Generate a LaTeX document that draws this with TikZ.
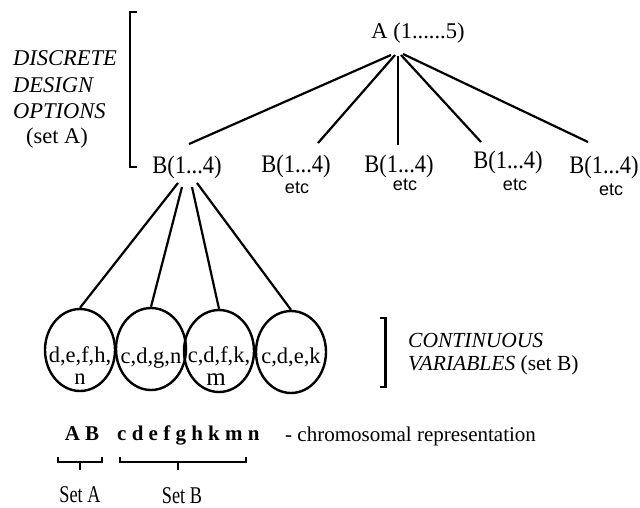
\documentclass[tikz,border=0pt]{standalone}
\usepackage{fontspec}
\usepackage{graphicx}
\setmainfont{Liberation Serif}
\newfontfamily\sansf{Liberation Sans}
\usetikzlibrary{shapes.geometric}
\newcommand\tallbox[1]{\scalebox{1}[1.12]{#1}}
\newcommand\narrowbox[1]{\scalebox{0.76}[1]{#1}}
\tikzset{
  lbl/.style={inner sep=0pt, font=\fontsize{22.5}{26}\selectfont},
  etclbl/.style={inner sep=0pt, font=\sansf\fontsize{18}{20}\selectfont},
  itl/.style={inner sep=0pt, font=\itshape\fontsize{22.5}{26}\selectfont},
  itlb/.style={inner sep=0pt, font=\fontsize{21.5}{24}\selectfont},
  gene/.style={draw, line width=2.4pt, ellipse, minimum width=70pt, minimum height=82pt, inner sep=0pt},
  cell/.style={inner sep=0pt, font=\fontsize{22.5}{19}\selectfont},
  chrom/.style={inner sep=0pt, font=\bfseries\fontsize{21}{24}\selectfont},
  small/.style={inner sep=0pt, font=\fontsize{21}{24}\selectfont},
  setlbl/.style={inner sep=0pt, font=\fontsize{24}{26}\selectfont},
  edge/.style={line width=2.2pt},
  brk/.style={line width=2.4pt},
}
\begin{document}
\begin{tikzpicture}[x=1pt,y=-1pt]
\useasboundingbox (0,0) rectangle (640,507);
% top node
\node[lbl] (A) at (418,33) {A (1......5)};
\coordinate (t1) at (391,55);
\coordinate (t2) at (395,55);
\coordinate (t3) at (398,56);
\coordinate (t4) at (401,55);
\coordinate (t5) at (403,54);
% B labels
\node[lbl, anchor=base] (B1) at (187,173) {\tallbox{B(1...4)}};
\node[lbl, anchor=base] (B2) at (296,172) {\tallbox{B(1...4)}};
\node[lbl, anchor=base] (B3) at (399,172) {\tallbox{B(1...4)}};
\node[lbl, anchor=base] (B4) at (508,168) {\tallbox{B(1...4)}};
\node[lbl, anchor=base] (B5) at (604,173) {\tallbox{B(1...4)}};
\node[etclbl, anchor=base] (e2) at (297,193) {etc};
\node[etclbl, anchor=base] (e3) at (405,190) {etc};
\node[etclbl, anchor=base] (e4) at (515,190) {etc};
\node[etclbl, anchor=base] (e5) at (611,195) {etc};
\coordinate (b1) at (189,144);
\coordinate (b2) at (318,143);
\coordinate (b3) at (398,145);
\coordinate (b4) at (481,142);
\coordinate (b5) at (588,142);
\draw[edge] (t1) -- (b1);
\draw[edge] (t2) -- (b2);
\draw[edge] (t3) -- (b3);
\draw[edge] (t4) -- (b4);
\draw[edge] (t5) -- (b5);
% left bracket and label
\draw[brk] (137,12) -- (130,12) -- (130,167) -- (137,167);
\node[itl, anchor=base west] (d1) at (13,65) {DISCRETE};
\node[itl, anchor=base west] (d2) at (13,92) {DESIGN};
\node[itl, anchor=base west] (d3) at (13,118) {OPTIONS};
\node[lbl, anchor=base] (d4) at (57,143) {(set A)};
% circles
\node[gene] (c1) at (80,350) {};
\node[gene] (c2) at (151,349) {};
\node[gene] (c3) at (219,351) {};
\node[gene] (c4) at (291,352) {};
\node[cell, anchor=base] (x1) at (80,362) {d,e,f,h,};
\node[cell, anchor=base] (x1b) at (80,384) {n};
\node[cell, anchor=base] (x2) at (151,363) {c,d,g,n};
\node[cell, anchor=base] (x3) at (219,362) {c,d,f,k,};
\node[cell, anchor=base, font=\fontsize{25}{25}\selectfont] (x3b) at (216,385) {m};
\node[cell, anchor=base] (x4) at (291,363) {c,d,e,k};
\coordinate (s1) at (178,183);
\coordinate (s2) at (182,187);
\coordinate (s3) at (192,187);
\coordinate (s4) at (197,183);
\draw[edge] (s1) -- (c1.north);
\draw[edge] (s2) -- (c2.north);
\draw[edge] (s3) -- (c3.north);
\draw[edge] (s4) -- (c4.north);
% right bracket and label
\draw[brk] (380,318) -- (385.5,318) -- (385.5,387) -- (380,387);
\node[itlb, anchor=base west] (v1) at (408,347) {\itshape CONTINUOUS};
\node[itlb, anchor=base west] (v2) at (408,370) {\itshape VARIABLES\/\upshape{} (set B)};
% chromosome
\node[chrom, anchor=base] (ab) at (82,440) {A B};
\node[chrom, anchor=base west] (cn) at (117,440) {c d e f g h k m n};
\node[small, anchor=base west] (cr) at (285,441) {- chromosomal representation};
\draw[edge] (58,457) -- (58,462) -- (102,462) -- (102,457);
\draw[edge] (80,462) -- (80,470);
\draw[edge] (120,457) -- (120,462) -- (246,462) -- (246,457);
\draw[edge] (178,462) -- (178,470);
\node[setlbl, anchor=base] (sa) at (80,502) {\narrowbox{Set A}};
\node[setlbl, anchor=base] (sb) at (182,503) {\narrowbox{Set B}};
\end{tikzpicture}
\end{document}
